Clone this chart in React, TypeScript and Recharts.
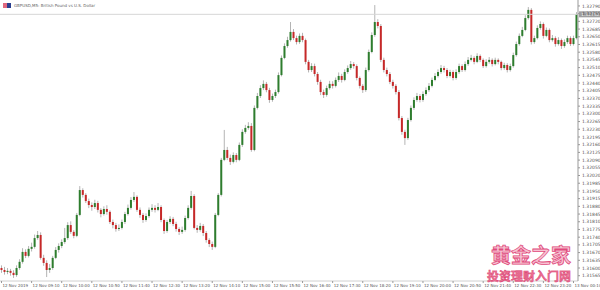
import React from "react";
import { Bar, ComposedChart, ReferenceLine, XAxis, YAxis } from "recharts";

const firstOpen = 1.316;

const closes = [
  1.31591, 1.31582, 1.31587, 1.31578, 1.31568, 1.316, 1.31628, 1.31673, 1.31655, 1.31687,
  1.31696, 1.31736, 1.3175, 1.31646, 1.31623, 1.31591, 1.316, 1.31646, 1.31682, 1.317,
  1.31718, 1.31736, 1.31795, 1.31764, 1.31746, 1.31841, 1.31954, 1.31932, 1.31904, 1.31886,
  1.31877, 1.31895, 1.31864, 1.31845, 1.31868, 1.31855, 1.31809, 1.31795, 1.31777, 1.31782,
  1.31809, 1.31845, 1.31873, 1.31909, 1.31923, 1.31864, 1.31841, 1.31818, 1.31836, 1.31864,
  1.31873, 1.31864, 1.31877, 1.31818, 1.31768, 1.31809, 1.31823, 1.318, 1.31777, 1.31764,
  1.31773, 1.31827, 1.31873, 1.31927, 1.31782, 1.31773, 1.31791, 1.31759, 1.31727, 1.31709,
  1.31696, 1.31841, 1.31932, 1.32091, 1.32136, 1.321, 1.32082, 1.32113, 1.32091, 1.32159,
  1.32218, 1.32236, 1.32245, 1.32136, 1.32327, 1.32381, 1.32417, 1.32436, 1.32408, 1.32363,
  1.32381, 1.32399, 1.32476, 1.32554, 1.32608, 1.32635, 1.32672, 1.32644, 1.32626, 1.32654,
  1.32635, 1.32536, 1.32499, 1.32517, 1.32481, 1.32445, 1.32399, 1.32386, 1.32417, 1.32436,
  1.32427, 1.32454, 1.32472, 1.32454, 1.3249, 1.32508, 1.32526, 1.32517, 1.32463, 1.32427,
  1.32408, 1.32499, 1.32581, 1.32658, 1.32717, 1.32699, 1.32545, 1.32499, 1.32481, 1.32445,
  1.32427, 1.32399, 1.32281, 1.32218, 1.3219, 1.32272, 1.32327, 1.32363, 1.32381, 1.32363,
  1.3239, 1.32408, 1.32427, 1.32454, 1.32472, 1.3249, 1.32508, 1.32499, 1.32472, 1.3249,
  1.32463, 1.3249, 1.32517, 1.32499, 1.32526, 1.32545, 1.32554, 1.32536, 1.32563, 1.32545,
  1.32517, 1.32536, 1.32545, 1.32526, 1.32545, 1.32536, 1.32508, 1.32522, 1.32499, 1.32517,
  1.32567, 1.32617, 1.32654, 1.32681, 1.32735, 1.32772, 1.32626, 1.32644, 1.3269, 1.32708,
  1.32654, 1.32681, 1.32635, 1.32644, 1.32617, 1.32635, 1.32608, 1.32626, 1.32644, 1.32617,
  1.32644, 1.32752,
];

const highs = [
  1.31612, 1.31605, 1.316, 1.31596, 1.3159, 1.31612, 1.3164, 1.3169, 1.31685, 1.317,
  1.31715, 1.31752, 1.31768, 1.31762, 1.3166, 1.31635, 1.31618, 1.31655, 1.31695, 1.31712,
  1.3173, 1.31782, 1.31808, 1.31812, 1.31772, 1.3185, 1.31972, 1.31962, 1.3194, 1.31915,
  1.31898, 1.3191, 1.31905, 1.31872, 1.3188, 1.31885, 1.31862, 1.3182, 1.31805, 1.31798,
  1.3182, 1.31855, 1.31888, 1.31922, 1.31945, 1.3193, 1.31875, 1.3185, 1.31848, 1.31875,
  1.3189, 1.31885, 1.31895, 1.31885, 1.31825, 1.31818, 1.31835, 1.31832, 1.3181, 1.31785,
  1.31788, 1.31838, 1.31885, 1.3195, 1.31935, 1.31795, 1.31805, 1.318, 1.31768, 1.31735,
  1.3172, 1.3185, 1.3194, 1.321, 1.32227, 1.3215, 1.32115, 1.32125, 1.32122, 1.3217,
  1.3223, 1.3225, 1.32262, 1.32258, 1.32338, 1.32395, 1.3243, 1.32452, 1.32445, 1.32418,
  1.32392, 1.3241, 1.32488, 1.32565, 1.3262, 1.3265, 1.32717, 1.32685, 1.32655, 1.32665,
  1.32668, 1.32642, 1.32545, 1.3253, 1.32528, 1.3249, 1.32455, 1.3241, 1.32428, 1.3245,
  1.32448, 1.32465, 1.32488, 1.32482, 1.32502, 1.3252, 1.3254, 1.32535, 1.32525, 1.3247,
  1.32435, 1.3251, 1.32592, 1.3267, 1.32794, 1.3273, 1.32708, 1.32555, 1.3251, 1.3249,
  1.32455, 1.32435, 1.32408, 1.3229, 1.32228, 1.32282, 1.32338, 1.32375, 1.32395, 1.3239,
  1.32402, 1.3242, 1.3244, 1.32465, 1.32485, 1.32502, 1.32522, 1.32518, 1.32508, 1.325,
  1.32498, 1.32502, 1.32528, 1.32525, 1.32538, 1.32558, 1.32568, 1.32562, 1.32575, 1.3257,
  1.32552, 1.32548, 1.32558, 1.32552, 1.32555, 1.32552, 1.32542, 1.32532, 1.3253, 1.32528,
  1.32578, 1.32628, 1.32665, 1.32695, 1.32748, 1.32785, 1.3278, 1.32655, 1.32702, 1.3272,
  1.32715, 1.32692, 1.32688, 1.32658, 1.32652, 1.32648, 1.32642, 1.32638, 1.32655, 1.32652,
  1.32655, 1.32762,
];

const lows = [
  1.31578, 1.3157, 1.31572, 1.31565, 1.31555, 1.3156, 1.31592, 1.3162, 1.31645, 1.31648,
  1.31675, 1.31688, 1.31728, 1.31638, 1.3161, 1.31559, 1.31578, 1.31592, 1.3164, 1.3167,
  1.3169, 1.3171, 1.31728, 1.31755, 1.31735, 1.3174, 1.31835, 1.3192, 1.31895, 1.31872,
  1.3186, 1.31868, 1.31852, 1.3183, 1.31838, 1.31842, 1.318, 1.3178, 1.31765, 1.31768,
  1.31775, 1.318, 1.31838, 1.31865, 1.319, 1.31855, 1.31828, 1.31805, 1.3181, 1.31828,
  1.31855, 1.31852, 1.31858, 1.31808, 1.31755, 1.3176, 1.318, 1.3179, 1.31765, 1.3175,
  1.31755, 1.31765, 1.3182, 1.31865, 1.31775, 1.3176, 1.31765, 1.31745, 1.31715, 1.31695,
  1.31682, 1.3169, 1.31835, 1.31925, 1.32085, 1.3209, 1.32068, 1.32075, 1.3208, 1.32085,
  1.3215, 1.3221, 1.32228, 1.32128, 1.3213, 1.3232, 1.32372, 1.32408, 1.32398, 1.3235,
  1.32355, 1.32372, 1.32392, 1.3247, 1.32548, 1.326, 1.32628, 1.32635, 1.32615, 1.32618,
  1.32625, 1.32525, 1.32488, 1.3249, 1.3247, 1.32432, 1.32385, 1.32372, 1.32378, 1.3241,
  1.32415, 1.3242, 1.32445, 1.32442, 1.32448, 1.32482, 1.325, 1.32505, 1.32452, 1.32415,
  1.32395, 1.324, 1.32492, 1.32575, 1.3265, 1.32688, 1.32535, 1.32488, 1.3247, 1.32435,
  1.32415, 1.32388, 1.3227, 1.32205, 1.32159, 1.32182, 1.32265, 1.32318, 1.32355, 1.32352,
  1.32355, 1.32382, 1.324, 1.3242, 1.32448, 1.32465, 1.32482, 1.32488, 1.32462, 1.32465,
  1.32452, 1.32455, 1.32482, 1.3249, 1.32492, 1.32518, 1.32538, 1.32525, 1.3253, 1.32535,
  1.32508, 1.3251, 1.32528, 1.32515, 1.3252, 1.32525, 1.32498, 1.325, 1.32488, 1.32492,
  1.3251, 1.3256, 1.3261, 1.32648, 1.32675, 1.32728, 1.32615, 1.32618, 1.32638, 1.32682,
  1.32642, 1.32648, 1.32625, 1.32628, 1.32605, 1.3261, 1.32595, 1.326, 1.32618, 1.32608,
  1.3261, 1.32638,
];

const priceTicks = [
  1.31565, 1.316, 1.31635, 1.3167, 1.31705, 1.3174, 1.31775, 1.3181, 1.31845, 1.3188,
  1.31915, 1.3195, 1.31985, 1.3202, 1.32055, 1.3209, 1.32125, 1.3216, 1.32195, 1.3223,
  1.32265, 1.323, 1.32335, 1.3237, 1.32405, 1.3244, 1.32475, 1.3251, 1.32545, 1.3258,
  1.32615, 1.3265, 1.32685, 1.3272, 1.32755, 1.3279,
];

const timeLabels = [
  "12 Nov 2019", "12 Nov 09:10", "12 Nov 10:00", "12 Nov 10:50", "12 Nov 11:40",
  "12 Nov 12:30", "12 Nov 13:20", "12 Nov 14:10", "12 Nov 15:00", "12 Nov 15:50",
  "12 Nov 16:40", "12 Nov 17:30", "12 Nov 18:20", "12 Nov 19:10", "12 Nov 20:00",
  "12 Nov 20:50", "12 Nov 21:40", "12 Nov 22:30", "12 Nov 23:20", "13 Nov 00:10",
];

const lastPrice = closes[closes.length - 1];

const rows = closes.map((c, i) => ({
  i,
  o: i === 0 ? firstOpen : closes[i - 1],
  c,
  h: highs[i],
  l: lows[i],
  range: [lows[i], highs[i]],
}));

const UP = "#2e7d2e";
const DOWN = "#c62828";
const WICK = "#b4b4b4";
const FONT = "'DejaVu Sans', sans-serif";

function Candle(props: any) {
  const { x, y, width, height, payload } = props;
  if (!payload) return null;
  const { o, c, h, l } = payload;
  const top = Math.min(y, y + height);
  const span = Math.abs(height);
  const k = h === l ? 0 : span / (h - l);
  const cx = x + width / 2;
  const bTop = top + (h - Math.max(o, c)) * k;
  const bBot = top + (h - Math.min(o, c)) * k;
  return (
    <g>
      <line x1={cx} x2={cx} y1={top} y2={top + span} stroke={WICK} strokeWidth={1} />
      <rect
        x={cx - 1}
        y={bTop}
        width={2}
        height={Math.max(bBot - bTop, 1)}
        fill={c >= o ? UP : DOWN}
      />
    </g>
  );
}

function PriceTag(props: any) {
  const { viewBox } = props;
  if (!viewBox) return null;
  const px = viewBox.x + viewBox.width;
  const py = viewBox.y;
  return (
    <g>
      <rect x={px + 1} y={py - 3} width={21} height={6} fill="#9e9e9e" />
      <text x={px + 3} y={py + 1.6} fontSize={4.5} fill="#fff" fontFamily={FONT}>
        {lastPrice.toFixed(5)}
      </text>
    </g>
  );
}

function TimeTick(props: any) {
  const { x, y, payload } = props;
  const label = timeLabels[Math.round(payload.value / 10)] ?? "";
  return (
    <g>
      <line x1={x} x2={x} y1={y} y2={y + 2} stroke="#999" />
      <text x={x + 1} y={y + 6.2} fontSize={4} fill="#555" fontFamily={FONT}>
        {label}
      </text>
    </g>
  );
}

export default function App() {
  return (
    <div style={{ position: "absolute", left: 0, top: 0, width: 600, height: 290, background: "#fff" }}>
      <ComposedChart
        width={600}
        height={290}
        data={rows}
        margin={{ top: 0, right: 0, bottom: 0, left: 0 }}
        barCategoryGap={0}
      >
        <XAxis
          dataKey="i"
          type="category"
          interval={9}
          height={9}
          tickSize={0}
          tickMargin={0}
          tickLine={false}
          axisLine={{ stroke: "#d0d0d0" }}
          tick={<TimeTick />}
        />
        <YAxis
          orientation="right"
          width={22}
          domain={[1.31541, 1.32817]}
          allowDataOverflow
          ticks={priceTicks}
          interval={0}
          tickSize={2}
          axisLine={{ stroke: "#999" }}
          tickLine={{ stroke: "#999" }}
          tick={{ fontSize: 4.5, fill: "#555", fontFamily: FONT }}
          tickFormatter={(v: number) => v.toFixed(5)}
        />
        <ReferenceLine y={lastPrice} stroke="#d6d6d6" strokeWidth={1} label={<PriceTag />} ifOverflow="extendDomain" />
        <Bar dataKey="range" barSize={3} shape={<Candle />} isAnimationActive={false} />
      </ComposedChart>
      <div style={{ position: "absolute", left: 3, top: 3, display: "flex", alignItems: "center" }}>
        <div style={{ width: 4, height: 5, background: "#e06a80" }} />
        <div style={{ width: 4, height: 5, background: "#2a3f8f", marginRight: 3 }} />
        <span style={{ fontFamily: FONT, fontSize: 4, color: "#666", lineHeight: "5px" }}>
          GBPUSD,M5:  British Pound vs U.S. Dollar
        </span>
      </div>
      <svg width={600} height={290} style={{ position: "absolute", left: 0, top: 0, pointerEvents: "none" }}>
        <text
          x={531}
          y={263}
          textAnchor="middle"
          fontSize={20}
          fontWeight="bold"
          fontFamily="'Noto Sans CJK SC', sans-serif"
          fill="#f7c2d2"
          stroke="#e04a7c"
          strokeWidth={0.8}
        >
          黄金之家
        </text>
        <text
          x={529}
          y={281}
          textAnchor="middle"
          fontSize={12}
          fontWeight="bold"
          fontFamily="'Noto Sans CJK SC', sans-serif"
          fill="#ec6f93"
          stroke="#d93d6e"
          strokeWidth={0.4}
        >
          投资理财入门网
        </text>
      </svg>
    </div>
  );
}
